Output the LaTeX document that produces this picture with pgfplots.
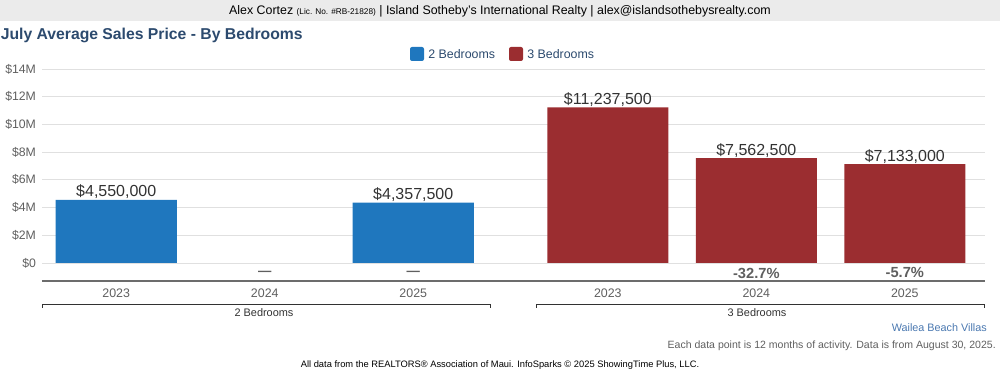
\documentclass[border=0pt]{standalone}
\usepackage{fontspec}
\setmainfont{Liberation Sans}
\usepackage{pgfplots}
\pgfplotsset{compat=1.18}
\definecolor{barblue}{RGB}{31,119,190}
\definecolor{barred}{RGB}{155,45,48}
\definecolor{titleblue}{RGB}{44,74,110}
\definecolor{headergray}{RGB}{235,235,235}
\definecolor{gridgray}{RGB}{224,224,224}
\definecolor{tickgray}{RGB}{95,95,95}
\definecolor{valgray}{RGB}{50,50,50}
\definecolor{linkblue}{RGB}{74,120,176}
\newcommand{\fs}[1]{\fontsize{#1}{#1}\selectfont}
\begin{document}
\begin{tikzpicture}
\useasboundingbox (0,0) rectangle (750pt,281.25pt);
\begin{scope}[shift={(0,281.25pt)}, x=0.75pt, y=-0.75pt]
\fill[headergray] (0,0) rectangle (1000,21);
\node[font=\fs{9.3}, text=black] at (500,11) {Alex Cortez {\fs{6.2}(Lic. No. \#RB-21828)} | Island Sotheby's International Realty | alex@islandsothebysrealty.com};
\node[anchor=west, font=\bfseries\fs{11.8}, text=titleblue, inner sep=0pt] at (0.5,35) {July Average Sales Price - By Bedrooms};
% legend
\fill[barblue, rounded corners=1.5pt] (410,47) rectangle (424,61);
\node[anchor=west, font=\fs{9.3}, text=titleblue, inner sep=0pt] at (428,54) {2 Bedrooms};
\fill[barred, rounded corners=1.5pt] (509,47) rectangle (523,61);
\node[anchor=west, font=\fs{9.3}, text=titleblue, inner sep=0pt] at (527,54) {3 Bedrooms};
% group brackets
\draw[valgray, line width=0.7pt] (42,308) -- (42,304) -- (490,304) -- (490,308);
\draw[valgray, line width=0.7pt] (536,308) -- (536,304) -- (984,304) -- (984,308);
\node[font=\fs{8.2}, text=valgray] at (264,312.5) {2 Bedrooms};
\node[font=\fs{8.2}, text=valgray] at (757,312.5) {3 Bedrooms};
% footer
\node[anchor=east, font=\fs{8.1}, text=linkblue, inner sep=0pt] at (987,328) {Wailea Beach Villas};
\node[anchor=east, font=\fs{7.9}, text=tickgray, inner sep=0pt] at (996,346) {Each data point is 12 months of activity. Data is from August 30, 2025.};
\node[font=\fs{7}, text=black, inner sep=0pt] at (500,365) {All data from the REALTORS® Association of Maui. InfoSparks © 2025 ShowingTime Plus, LLC.};
\end{scope}
\begin{axis}[
  at={(31.5pt,70.5pt)}, anchor=south west,
  scale only axis, width=707.25pt, height=159pt,
  xmin=-0.5, xmax=5.85, ymin=-1.3, ymax=14,
  axis x line*=bottom, axis y line*=left,
  y axis line style={draw=none},
  x axis line style={draw=gray!85!black, line width=0.8pt},
  tick style={draw=none},
  ytick={0,2,4,6,8,10,12,14},
  yticklabels={\$0,\$2M,\$4M,\$6M,\$8M,\$10M,\$12M,\$14M},
  yticklabel style={font=\fs{9.2}, text=tickgray, xshift=-1pt},
  xtick={0,1,2,3.31,4.31,5.31},
  xticklabels={2023,2024,2025,2023,2024,2025},
  xticklabel style={font=\fs{9.3}, text=tickgray, yshift=-2pt},
  ymajorgrids, grid style={gridgray, line width=0.7pt},
  clip=false,
]
\addplot[ybar, bar width=0.815, bar shift=0pt, fill=barblue, draw=none] coordinates {(0,4.55) (2,4.3575)};
\addplot[ybar, bar width=0.815, bar shift=0pt, fill=barred, draw=none] coordinates {(3.31,11.2375) (4.31,7.5625) (5.31,7.133)};
\node[anchor=south, font=\fs{12}, text=valgray, inner sep=0.6pt] at (axis cs:0,4.55) {\$4,550,000};
\node[anchor=south, font=\fs{12}, text=valgray, inner sep=0.6pt] at (axis cs:2,4.3575) {\$4,357,500};
\node[anchor=south, font=\fs{12}, text=valgray, inner sep=0.6pt] at (axis cs:3.31,11.2375) {\$11,237,500};
\node[anchor=south, font=\fs{12}, text=valgray, inner sep=0.6pt] at (axis cs:4.31,7.5625) {\$7,562,500};
\node[anchor=south, font=\fs{12}, text=valgray, inner sep=0.6pt] at (axis cs:5.31,7.133) {\$7,133,000};
\node[font=\bfseries\fs{10}, text=tickgray] at (axis cs:1,-0.72) {—};
\node[font=\bfseries\fs{10}, text=tickgray] at (axis cs:2,-0.72) {—};
\node[font=\bfseries\fs{11}, text=tickgray] at (axis cs:4.31,-0.72) {-32.7\%};
\node[font=\bfseries\fs{11}, text=tickgray] at (axis cs:5.31,-0.72) {-5.7\%};
\end{axis}
\end{tikzpicture}
\end{document}
